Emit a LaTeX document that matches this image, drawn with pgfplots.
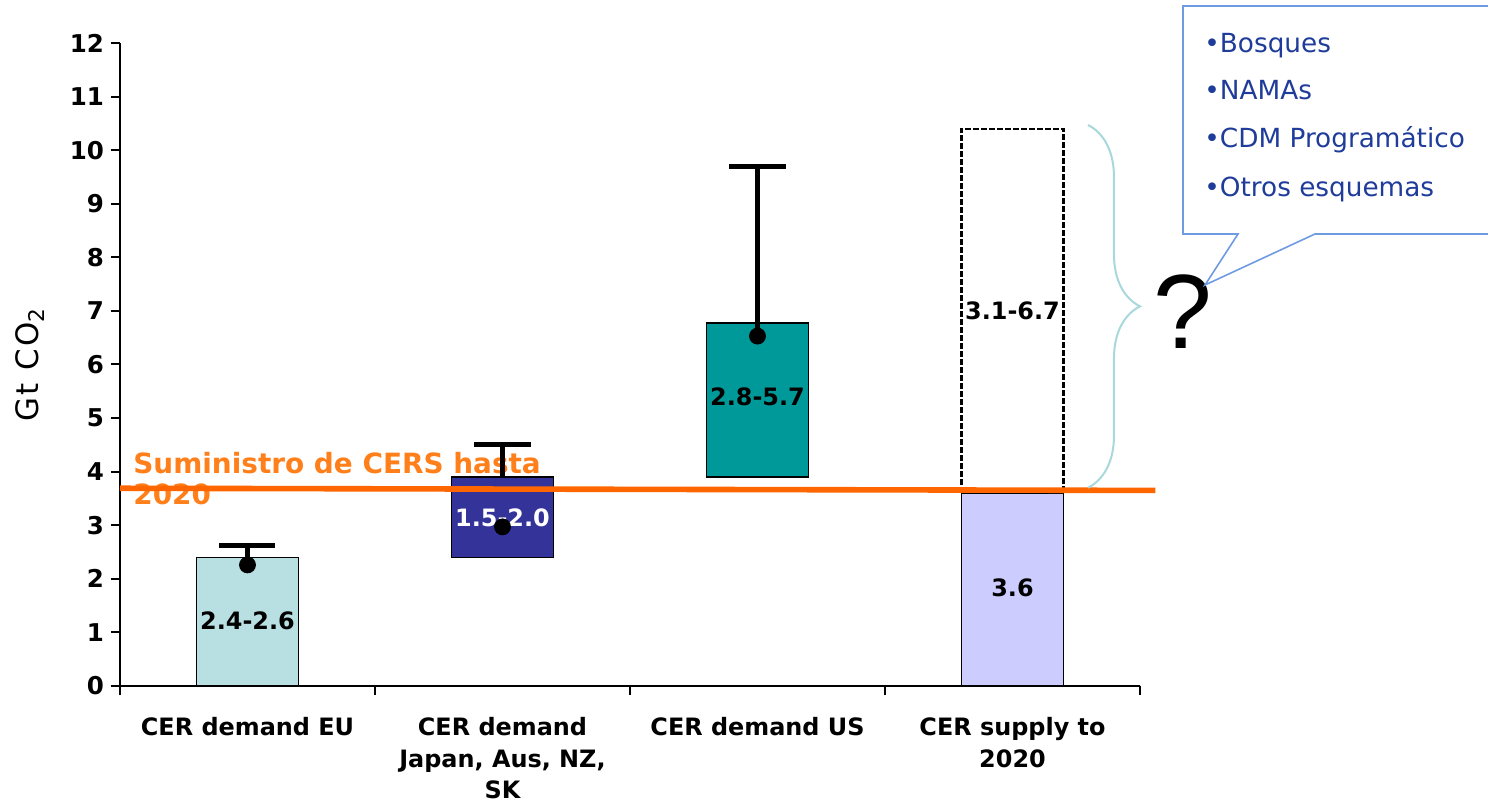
\documentclass[border=0pt]{standalone}
\usepackage{fontspec}
\setmainfont{DejaVu Sans}
\newfontfamily\qfont{Liberation Sans}
\newfontfamily\ylabfont[LetterSpace=8]{DejaVu Sans}
\usepackage{pgfplots}
\pgfplotsset{compat=1.18}
\usetikzlibrary{decorations.pathreplacing}

\definecolor{cEU}{HTML}{B8DFE2}
\definecolor{cJap}{HTML}{333399}
\definecolor{cUS}{HTML}{009999}
\definecolor{cSup}{HTML}{CCCCFF}
\definecolor{cLine}{HTML}{FF6600}
\definecolor{cLab}{HTML}{FF7F1A}
\definecolor{cBrace}{HTML}{A8D8DC}
\definecolor{cCall}{HTML}{6F9BE3}
\definecolor{cCallTxt}{HTML}{1F3C9A}

\begin{document}
\begin{tikzpicture}
\useasboundingbox (-60bp,-60bp) rectangle (684bp,343bp);
\begin{axis}[
  at={(0,0)}, anchor=south west,
  scale only axis, width=510bp, height=321.5bp,
  xmin=0, xmax=4, ymin=0, ymax=12,
  clip=false,
  axis lines=left, axis line style={-, line width=1bp},
  tick align=outside, major tick length=4.5bp,
  tick style={black, line width=1bp},
  xtick={0,1,2,3,4}, xticklabels={},
  extra x ticks={0.5,1.5,2.5,3.5},
  extra x tick labels={CER demand EU, {CER demand\\Japan, Aus, NZ,\\SK}, CER demand US, {CER supply to\\2020}},
  extra x tick style={major tick length=0pt,
    tick label style={align=center, yshift=-12bp,
      font=\bfseries\fontsize{12}{16}\selectfont}},
  ytick={0,1,...,12},
  yticklabel style={font=\bfseries\fontsize{12.3}{12}\selectfont},
  /pgf/number format/assume math mode=true,
  ylabel={\ylabfont Gt CO\textsubscript{2}},
  ylabel style={at={(axis description cs:-0.088,0.5)}, anchor=center,
    font=\fontsize{15.5}{15}\selectfont},
]
% supply line label
\node[anchor=base west, text=cLab, font=\bfseries\fontsize{14}{14}\selectfont]
  at (axis cs:0.025,3.975) {Suministro de CERS hasta};
\node[anchor=base west, text=cLab, font=\bfseries\fontsize{14}{14}\selectfont]
  at (axis cs:0.025,3.378) {2020};

% floating bars
\addplot[draw=black, fill=cEU, line width=0.9bp]
  coordinates {(0.3,0) (0.3,2.4) (0.7,2.4) (0.7,0)} -- cycle;
\addplot[draw=black, fill=cJap, line width=0.9bp]
  coordinates {(1.3,2.4) (1.3,3.9) (1.7,3.9) (1.7,2.4)} -- cycle;
\addplot[draw=black, fill=cUS, line width=0.9bp]
  coordinates {(2.3,3.9) (2.3,6.78) (2.7,6.78) (2.7,3.9)} -- cycle;
\addplot[draw=black, fill=cSup, line width=0.9bp]
  coordinates {(3.3,0) (3.3,3.6) (3.7,3.6) (3.7,0)} -- cycle;
\addplot[draw=black, fill=white, line width=1.2bp, dash pattern=on 3bp off 1bp]
  coordinates {(3.3,3.6) (3.3,10.4) (3.7,10.4) (3.7,3.6)} -- cycle;

% bar labels
\begin{scope}[font=\bfseries\fontsize{12}{12}\selectfont]
\node at (axis cs:0.5,1.21) {2.4-2.6};
\node[text=white] at (axis cs:1.5,3.13) {1.5-2.0};
\node at (axis cs:2.5,5.39) {2.8-5.7};
\node at (axis cs:3.5,7.0) {3.1-6.7};
\node at (axis cs:3.5,1.83) {3.6};
\end{scope}

% ranges
\addplot[draw=none, mark=none,
  error bars/.cd, y dir=plus, y explicit, error mark=|,
  error bar style={draw=black, line width=2.5bp},
  error mark options={draw=black, line width=2.5bp, mark size=14bp}]
  coordinates {(0.5,2.4) +- (0,0.22) (1.5,3.9) +- (0,0.6) (2.5,6.53) +- (0,3.17)};
\addplot[only marks, mark=*, mark size=4bp, black]
  coordinates {(0.5,2.26) (1.5,2.97) (2.5,6.53)};

% CER supply line
\addplot[cLine, line width=2.8bp] coordinates {(0,3.69) (4.06,3.65)};

% brace and question mark
\draw[cBrace, line width=1bp, decorate, decoration={brace, amplitude=26bp}]
  (axis cs:3.796,10.47) -- (axis cs:3.796,3.7);
\node[font=\qfont\fontsize{53}{53}\selectfont] at (axis cs:4.17,6.98) {?};
\end{axis}

% callout
\draw[cCall, line width=0.8bp, fill=white]
  (531.5bp,340bp) -- (531.5bp,226bp) -- (559bp,226bp) -- (542.5bp,200.5bp)
  -- (597.5bp,226bp) -- (700bp,226bp) -- (700bp,340bp) -- cycle;
\begin{scope}[every node/.style={anchor=base west, text=cCallTxt, inner sep=0pt,
    font=\fontsize{13.2}{13}\selectfont}]
\node at (542bp,316.5bp) {•Bosques};
\node at (542bp,293bp) {•NAMAs};
\node at (542bp,269bp) {•CDM Programático};
\node at (542bp,244.5bp) {•Otros esquemas};
\end{scope}
\end{tikzpicture}
\end{document}
